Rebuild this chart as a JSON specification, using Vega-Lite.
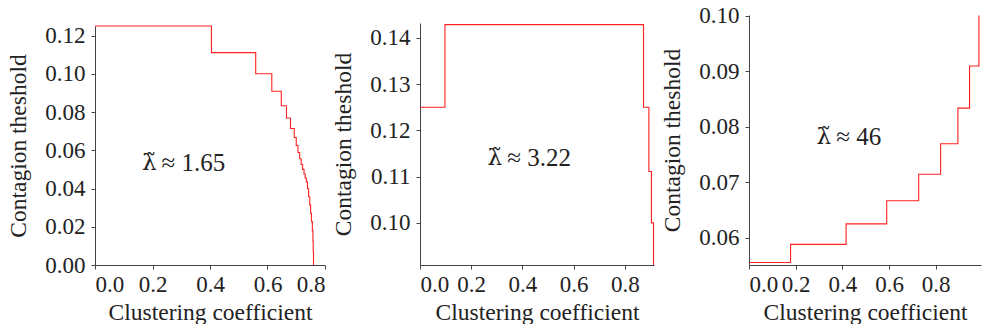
{
  "$schema": "https://vega.github.io/schema/vega-lite/v6.json",
  "padding": {"left": 6, "top": 4, "right": 0, "bottom": 0},
  "background": "white",
  "spacing": 95,
  "bounds": "flush",
  "config": {
    "view": {"stroke": null},
    "font": "Liberation Serif",
    "axis": {
      "grid": false,
      "domainColor": "#444444",
      "tickColor": "#444444",
      "tickSize": 4,
      "labelFont": "Liberation Serif",
      "labelFontSize": 23,
      "labelColor": "#222222",
      "labelPadding": 6,
      "titleFont": "Liberation Serif",
      "titleFontSize": 23.5,
      "titleFontWeight": "normal",
      "titleColor": "#222222"
    },
    "axisY": {"titlePadding": 14},
    "axisX": {"titlePadding": 4, "labelPadding": 4}
  },
  "datasets": {
    "p1": [
      {"x": 0.0, "y": 0.125},
      {"x": 0.405, "y": 0.1111},
      {"x": 0.559, "y": 0.1},
      {"x": 0.615, "y": 0.0909},
      {"x": 0.648, "y": 0.0833},
      {"x": 0.666, "y": 0.0769},
      {"x": 0.68, "y": 0.0714},
      {"x": 0.693, "y": 0.0667},
      {"x": 0.7, "y": 0.0625},
      {"x": 0.706, "y": 0.0588},
      {"x": 0.712, "y": 0.0556},
      {"x": 0.717, "y": 0.0526},
      {"x": 0.722, "y": 0.05},
      {"x": 0.727, "y": 0.0476},
      {"x": 0.731, "y": 0.0455},
      {"x": 0.735, "y": 0.0435},
      {"x": 0.739, "y": 0.04},
      {"x": 0.743, "y": 0.0357},
      {"x": 0.747, "y": 0.0313},
      {"x": 0.75, "y": 0.027},
      {"x": 0.753, "y": 0.0227},
      {"x": 0.756, "y": 0.0179},
      {"x": 0.758, "y": 0.0125},
      {"x": 0.759, "y": 0.0071},
      {"x": 0.76, "y": 0.0}
    ],
    "p2": [
      {"x": 0.0, "y": 0.125},
      {"x": 0.0975, "y": 0.142857},
      {"x": 0.873, "y": 0.125},
      {"x": 0.894, "y": 0.1111},
      {"x": 0.904, "y": 0.1},
      {"x": 0.912, "y": 0.0909}
    ],
    "p3": [
      {"x": 0.0, "y": 0.05556},
      {"x": 0.178, "y": 0.05882},
      {"x": 0.416, "y": 0.0625},
      {"x": 0.59, "y": 0.06667},
      {"x": 0.727, "y": 0.07143},
      {"x": 0.821, "y": 0.07692},
      {"x": 0.895, "y": 0.08333},
      {"x": 0.945, "y": 0.09091},
      {"x": 0.985, "y": 0.1}
    ],
    "labels": [
      {"panel": 1, "x": 0.214, "y": 0.0533, "sym": "λ̃", "rest": "≈ 1.65"},
      {"panel": 2, "x": 0.321, "y": 0.114, "sym": "λ̃", "rest": "≈ 3.22"},
      {"panel": 3, "x": 0.352, "y": 0.0781, "sym": "λ̃", "rest": "≈ 46"}
    ]
  },
  "hconcat": [
    {
      "width": 230,
      "height": 250,
      "layer": [
        {
          "data": {"name": "p1"},
          "mark": {"type": "line", "interpolate": "step-after", "color": "#ff2020", "strokeWidth": 1.1},
          "encoding": {
            "x": {"field": "x", "type": "quantitative", "title": "Clustering coefficient",
                  "scale": {"domain": [0, 0.8], "nice": false},
                  "axis": {"values": [0, 0.2, 0.4, 0.6, 0.8], "format": ".1f"}},
            "y": {"field": "y", "type": "quantitative", "title": "Contagion theshold",
                  "scale": {"domain": [0, 0.125], "nice": false, "zero": false, "range": [250, 11]},
                  "axis": {"values": [0, 0.02, 0.04, 0.06, 0.08, 0.1, 0.12], "format": ".2f"}}
          }
        },
        {
          "data": {"name": "labels"},
          "transform": [{"filter": "datum.panel == 1"}],
          "mark": {"type": "text", "fontSize": 23, "font": "DejaVu Serif", "color": "#222222", "align": "right", "baseline": "middle"},
          "encoding": {
            "x": {"field": "x", "type": "quantitative"},
            "y": {"field": "y", "type": "quantitative"},
            "text": {"field": "sym"}
          }
        },
        {
          "data": {"name": "labels"},
          "transform": [{"filter": "datum.panel == 1"}],
          "mark": {"type": "text", "fontSize": 25, "font": "Liberation Serif", "color": "#222222", "align": "left", "baseline": "middle", "dx": 5},
          "encoding": {
            "x": {"field": "x", "type": "quantitative"},
            "y": {"field": "y", "type": "quantitative"},
            "text": {"field": "rest"}
          }
        }
      ]
    },
    {
      "width": 234,
      "height": 250,
      "layer": [
        {
          "data": {"name": "p2"},
          "mark": {"type": "line", "interpolate": "step-after", "color": "#ff2020", "strokeWidth": 1.1},
          "encoding": {
            "x": {"field": "x", "type": "quantitative", "title": "Clustering coefficient",
                  "scale": {"domain": [0, 0.914], "nice": false},
                  "axis": {"values": [0, 0.2, 0.4, 0.6, 0.8], "format": ".1f"}},
            "y": {"field": "y", "type": "quantitative", "title": "Contagion theshold",
                  "scale": {"domain": [0.0909, 0.1432], "nice": false, "zero": false, "range": [250, 8]},
                  "axis": {"values": [0.1, 0.11, 0.12, 0.13, 0.14], "format": ".2f"}}
          }
        },
        {
          "data": {"name": "labels"},
          "transform": [{"filter": "datum.panel == 2"}],
          "mark": {"type": "text", "fontSize": 23, "font": "DejaVu Serif", "color": "#222222", "align": "right", "baseline": "middle"},
          "encoding": {
            "x": {"field": "x", "type": "quantitative"},
            "y": {"field": "y", "type": "quantitative"},
            "text": {"field": "sym"}
          }
        },
        {
          "data": {"name": "labels"},
          "transform": [{"filter": "datum.panel == 2"}],
          "mark": {"type": "text", "fontSize": 25, "font": "Liberation Serif", "color": "#222222", "align": "left", "baseline": "middle", "dx": 5},
          "encoding": {
            "x": {"field": "x", "type": "quantitative"},
            "y": {"field": "y", "type": "quantitative"},
            "text": {"field": "rest"}
          }
        }
      ]
    },
    {
      "width": 232,
      "height": 250,
      "layer": [
        {
          "data": {"name": "p3"},
          "mark": {"type": "line", "interpolate": "step-after", "color": "#ff2020", "strokeWidth": 1.1},
          "encoding": {
            "x": {"field": "x", "type": "quantitative", "title": "Clustering coefficient",
                  "scale": {"domain": [0, 0.994], "nice": false},
                  "axis": {"values": [0, 0.2, 0.4, 0.6, 0.8], "format": ".1f"}},
            "y": {"field": "y", "type": "quantitative", "title": "Contagion theshold",
                  "scale": {"domain": [0.0551, 0.1001], "nice": false, "zero": false},
                  "axis": {"values": [0.06, 0.07, 0.08, 0.09, 0.1], "format": ".2f"}}
          }
        },
        {
          "data": {"name": "labels"},
          "transform": [{"filter": "datum.panel == 3"}],
          "mark": {"type": "text", "fontSize": 23, "font": "DejaVu Serif", "color": "#222222", "align": "right", "baseline": "middle"},
          "encoding": {
            "x": {"field": "x", "type": "quantitative"},
            "y": {"field": "y", "type": "quantitative"},
            "text": {"field": "sym"}
          }
        },
        {
          "data": {"name": "labels"},
          "transform": [{"filter": "datum.panel == 3"}],
          "mark": {"type": "text", "fontSize": 25, "font": "Liberation Serif", "color": "#222222", "align": "left", "baseline": "middle", "dx": 5},
          "encoding": {
            "x": {"field": "x", "type": "quantitative"},
            "y": {"field": "y", "type": "quantitative"},
            "text": {"field": "rest"}
          }
        }
      ]
    }
  ]
}
